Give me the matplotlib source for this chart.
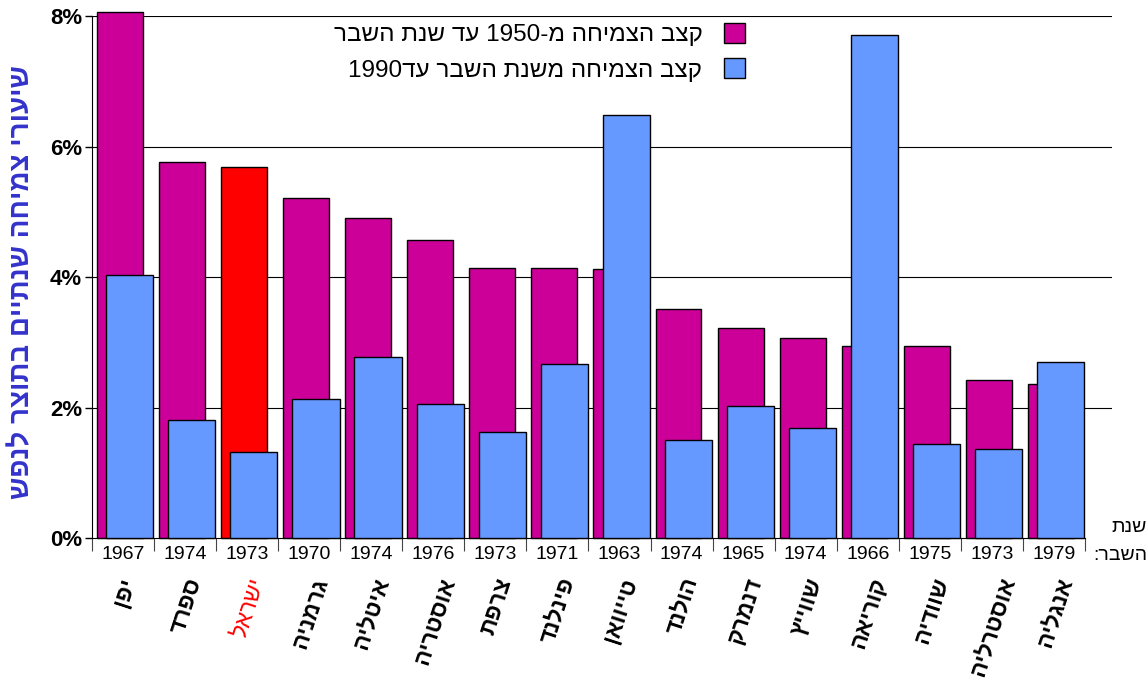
import re
import matplotlib
matplotlib.use("Agg")
import matplotlib.pyplot as plt
from matplotlib.patches import Patch

plt.rcParams['font.family'] = ['Liberation Sans', 'DejaVu Sans']

countries = ['יפן', 'ספרד', 'ישראל', 'גרמניה', 'איטליה', 'אוסטריה', 'צרפת', 'פינלנד',
             'טייוואן', 'הולנד', 'דנמרק', 'שווייץ', 'קוריאה', 'שוודיה', 'אוסטרליה', 'אנגליה']
years = ['1967', '1974', '1973', '1970', '1974', '1976', '1973', '1971',
         '1963', '1974', '1965', '1974', '1966', '1975', '1973', '1979']
growth_to_break = [8.06, 5.76, 5.69, 5.21, 4.90, 4.57, 4.14, 4.14,
                   4.12, 3.51, 3.22, 3.07, 2.94, 2.94, 2.42, 2.36]
growth_after_break = [4.03, 1.81, 1.32, 2.13, 2.77, 2.05, 1.62, 2.67,
                      6.48, 1.50, 2.02, 1.69, 7.71, 1.44, 1.36, 2.70]
yticks = [0, 2, 4, 6, 8]

label_1 = 'קצב הצמיחה מ-1950 עד שנת השבר'
label_2 = 'קצב הצמיחה משנת השבר עד1990'
ylabel = 'שיעורי צמיחה שנתיים בתוצר לנפש'


def heb(s):
    # poor man's bidi: reverse, but keep digit runs left-to-right
    r = s[::-1]
    return re.sub(r'\d+', lambda m: m.group(0)[::-1], r)


MAGENTA = '#CC0099'
BLUE = '#6699FF'
RED = '#FF0000'

fig = plt.figure(figsize=(11.48, 6.82), dpi=100)
ax = fig.add_axes([0.080, 0.211, 0.889, 0.7654])

x = list(range(len(countries)))
colors1 = [RED if c == 'ישראל' else MAGENTA for c in countries]
ax.bar([i - 0.05 for i in x], growth_to_break, width=0.74, color=colors1,
       edgecolor='black', linewidth=1, zorder=2, clip_on=False)
ax.bar([i + 0.11 for i in x], growth_after_break, width=0.76, color=BLUE,
       edgecolor='black', linewidth=1, zorder=3, clip_on=False)

ax.set_xlim(-0.5, 15.94)
ax.set_ylim(0, 8)
for v in yticks[1:]:
    ax.axhline(v, color='black', linewidth=0.8, zorder=1)

ax.set_yticks(yticks)
ax.set_yticklabels([f'{v}%' for v in yticks], fontsize=16, fontweight='bold')
ax.tick_params(axis='y', length=5, width=1, pad=2)

ax.set_xticks([i - 0.5 for i in range(len(countries) + 1)])
ax.set_xticklabels([])
ax.tick_params(axis='x', length=9, width=0.8, color='#444444')

for s in ['top', 'right']:
    ax.spines[s].set_visible(False)
ax.spines['bottom'].set_bounds(-0.5, 15.5)

trans = ax.get_xaxis_transform()
for i, (c, yr) in enumerate(zip(countries, years)):
    ax.text(i, -0.032, yr, transform=trans, ha='center', va='center', fontsize=14)
    is_isr = c == 'ישראל'
    ax.text(i + 0.02, -0.07, heb(c), transform=trans, ha='center', va='top',
            rotation=72, fontsize=16.5,
            fontweight='normal' if is_isr else 'bold',
            color=RED if is_isr else 'black')

fig.text(0.999, 1 - 527 / 682, heb('שנת'), ha='right', va='center', fontsize=14)
fig.text(0.999, 1 - 556 / 682, heb('השבר:'), ha='right', va='center', fontsize=14)

fig.text(0.019, 1 - 282 / 682, heb(ylabel), rotation=90, ha='center', va='center',
         fontsize=20, fontweight='bold', color='#3333CC')

handles = [Patch(facecolor=MAGENTA, edgecolor='black'),
           Patch(facecolor=BLUE, edgecolor='black')]
fig.legend(handles, [heb(label_1), heb(label_2)], loc='upper right',
           bbox_to_anchor=(0.668, 0.998), frameon=False, markerfirst=False,
           fontsize=17.5, handlelength=0.85, handleheight=0.85, handletextpad=0.9,
           labelspacing=0.5)

fig.savefig('out.png', dpi=100)
